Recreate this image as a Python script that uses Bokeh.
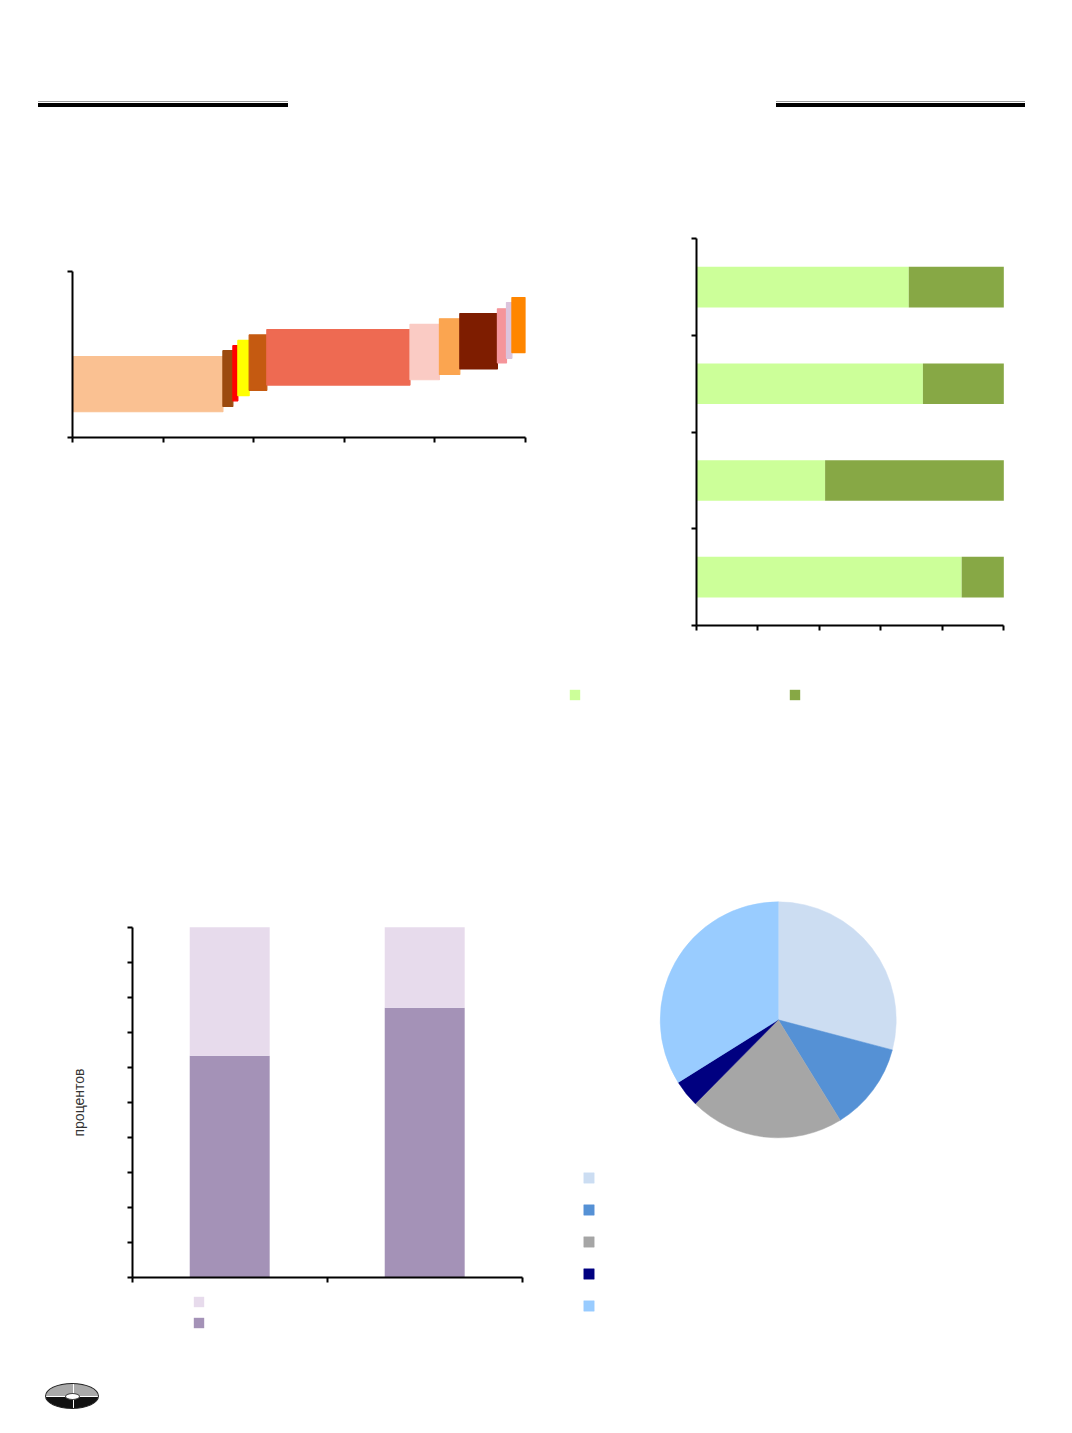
import numpy as np
from bokeh.plotting import figure
from bokeh.models import (ColumnDataSource, FixedTicker, Legend, LegendItem, Div, Range1d)
from bokeh.layouts import column, row
from bokeh.embed import file_html
from bokeh.resources import INLINE
from bokeh.core.properties import value

# ---------------- data ----------------
# Chart 1: variable-width floating bars (width = share, low/high = range)
c1_widths = [33.2, 2.2, 1.1, 2.5, 3.9, 31.6, 6.5, 4.5, 8.3, 2.0, 1.2, 3.0]
c1_lows = [15.5, 18.7, 22.1, 25.2, 28.4, 31.6, 34.8, 38.0, 41.3, 44.9, 47.7, 51.1]
c1_highs = [48.7, 52.3, 55.3, 58.5, 61.8, 65.0, 68.2, 71.5, 74.7, 77.5, 81.3, 84.3]
c1_colors = ["#FAC192", "#9C4A0E", "#FF0000", "#FFFF00", "#C55A11", "#EE6A52",
             "#FACBC4", "#FBA550", "#7E1D00", "#F5959A", "#DCC4DC", "#FF8600"]
c1_xticks = [0, 20, 40, 60, 80, 100]
c1_yticks = [0, 100]

# Chart 2: 100% stacked horizontal bars (bottom to top)
c2_first = [86.3, 41.9, 73.7, 69.1]
c2_second = [13.7, 58.1, 26.3, 30.9]
c2_colors = ["#CCFF99", "#87A845"]
c2_xticks = [0, 20, 40, 60, 80, 100]
c2_yticks = [0, 1, 2, 3, 4]

# Chart 3: 100% stacked vertical bars
c3_lower = [63.3, 77.0]
c3_upper = [36.7, 23.0]
c3_colors = ["#A492B7", "#E7DBEC"]  # lower, upper
c3_yticks = list(range(0, 101, 10))
c3_xticks = [0, 1, 2]
c3_ylabel = "процентов"

# Chart 4: pie shares (clockwise from 12 o'clock)
c4_shares = [29.1, 12.1, 21.2, 3.7, 33.9]
c4_colors = ["#CCDDF2", "#5591D5", "#A6A6A6", "#000080", "#99CCFF"]


def style(p):
    p.outline_line_color = None
    p.background_fill_color = "white"
    p.border_fill_color = "white"
    p.xgrid.visible = False
    p.ygrid.visible = False
    for ax in p.axis:
        ax.axis_line_color = "black"
        ax.axis_line_width = 2
        ax.major_tick_line_color = "black"
        ax.major_tick_line_width = 2
        ax.major_tick_in = 0
        ax.major_tick_out = 5
        ax.minor_tick_line_color = None
        ax.major_label_text_color = None


def no_align(p):
    if "frame_align" in p.properties():
        p.frame_align = False


def blank_legend(items, **kw):
    lg = Legend(items=items, padding=0, margin=0, border_line_color=None,
                background_fill_alpha=0, label_text_color=None,
                label_text_font_size="7px", **kw)
    return lg


# ---------------- chart 1 ----------------
w = np.array(c1_widths)
right = np.cumsum(w)
left = right - w
src1 = ColumnDataSource(dict(left=left, right=right, bottom=c1_lows, top=c1_highs, color=c1_colors))
p1 = figure(width=560, height=540, x_range=Range1d(0, 100), y_range=Range1d(0, 100),
            output_backend="svg", toolbar_location=None,
            min_border_left=72, min_border_right=35, min_border_top=81, min_border_bottom=293)
p1.quad(left="left", right="right", bottom="bottom", top="top", fill_color="color",
        line_color="color", line_width=1.2, source=src1)
p1.xaxis.ticker = FixedTicker(ticks=c1_xticks)
p1.yaxis.ticker = FixedTicker(ticks=c1_yticks)
style(p1)

# ---------------- chart 2 ----------------
# frame = whole figure; axes fixed at the data origin and bounded to the data range
ypos = np.arange(len(c2_first)) + 0.5
f = np.array(c2_first)
end = f + np.array(c2_second)
src2 = ColumnDataSource(dict(y=ypos, first=f, end=end))
p2 = figure(width=504, height=540, x_range=Range1d(-44.12, 119.73), y_range=Range1d(-1.086, 4.4996),
            output_backend="svg", toolbar_location=None,
            min_border_left=0, min_border_right=0, min_border_top=0, min_border_bottom=0)
ra = p2.hbar(y="y", left=0, right="first", height=0.42, fill_color=c2_colors[0],
             line_color=None, source=src2)
rb = p2.hbar(y="y", left="first", right="end", height=0.42, fill_color=c2_colors[1],
             line_color=None, source=src2)
p2.xaxis.ticker = FixedTicker(ticks=c2_xticks)
p2.yaxis.ticker = FixedTicker(ticks=c2_yticks)
p2.xaxis.fixed_location = 0
p2.yaxis.fixed_location = 0
p2.xaxis.bounds = (0, 100)
p2.yaxis.bounds = (0, 4)
style(p2)
lg2 = blank_legend([LegendItem(label=value(""), renderers=[ra]),
                    LegendItem(label=value(""), renderers=[rb])],
                   orientation="horizontal", location=(8, 29),
                   glyph_width=13, glyph_height=13, label_width=192, label_height=13,
                   label_standoff=5, spacing=10)
p2.add_layout(lg2)

# ---------------- chart 3 ----------------
xpos = np.arange(len(c3_lower)) + 0.5
lo = np.array(c3_lower)
src3 = ColumnDataSource(dict(x=xpos, lower=lo, total=lo + np.array(c3_upper)))
p3 = figure(width=560, height=615, x_range=Range1d(-0.6754, 2.1964), y_range=Range1d(-19.514, 156.2),
            output_backend="svg", toolbar_location=None,
            min_border_left=0, min_border_right=0, min_border_top=0, min_border_bottom=0)
r3a = p3.vbar(x="x", bottom=0, top="lower", width=0.41, fill_color=c3_colors[0],
              line_color=None, source=src3)
r3b = p3.vbar(x="x", bottom="lower", top="total", width=0.41, fill_color=c3_colors[1],
              line_color=None, source=src3)
p3.xaxis.ticker = FixedTicker(ticks=c3_xticks)
p3.yaxis.ticker = FixedTicker(ticks=c3_yticks)
p3.xaxis.fixed_location = 0
p3.yaxis.fixed_location = 0
p3.xaxis.bounds = (0, 2)
p3.yaxis.bounds = (0, 100)
style(p3)
p3.yaxis.axis_label = c3_ylabel
p3.yaxis.axis_label_text_font = "Liberation Sans"
p3.yaxis.axis_label_text_font_size = "14px"
p3.yaxis.axis_label_text_font_style = "normal"
p3.yaxis.axis_label_text_color = "#333333"
p3.yaxis.axis_label_standoff = 41
lg3 = blank_legend([LegendItem(label=value(""), renderers=[r3b]),
                    LegendItem(label=value(""), renderers=[r3a])],
                   orientation="vertical", location=(192, 16),
                   glyph_width=13, glyph_height=13, label_width=20, label_height=13,
                   label_standoff=5, spacing=8)
p3.add_layout(lg3)

# ---------------- chart 4 ----------------
sh = np.array(c4_shares) / np.sum(c4_shares)
cum_end = np.cumsum(sh)
cum_start = cum_end - sh
src4 = ColumnDataSource(dict(start=np.pi / 2 - 2 * np.pi * cum_start,
                             end=np.pi / 2 - 2 * np.pi * cum_end, color=c4_colors))
p4 = figure(width=504, height=615, x_range=Range1d(-1.845, 2.426), y_range=Range1d(-2.760, 2.452),
            output_backend="svg", toolbar_location=None, x_axis_location=None, y_axis_location=None,
            min_border_left=0, min_border_right=0, min_border_top=0, min_border_bottom=0)
r4 = p4.wedge(x=0, y=0, radius=1, start_angle="start", end_angle="end", direction="clock",
              fill_color="color", line_color="color", line_width=0.5, source=src4)
p4.outline_line_color = None
p4.xgrid.visible = False
p4.ygrid.visible = False
lg4 = blank_legend([LegendItem(label=value(""), renderers=[r4], index=i) for i in range(len(c4_shares))],
                   orientation="vertical", location=(22, 33),
                   glyph_width=13, glyph_height=13, label_width=20, label_height=13,
                   label_standoff=5, spacing=19)
p4.add_layout(lg4)

# ---------------- decorations ----------------
header = Div(width=1064, height=190, margin=0, text="""
<div style="position:relative;width:1064px;height:190px;">
 <div style="position:absolute;left:38px;top:101px;width:250px;height:1px;background:#9a9a9a"></div>
 <div style="position:absolute;left:38px;top:103px;width:250px;height:3.5px;background:#000"></div>
 <div style="position:absolute;left:776px;top:101px;width:249px;height:1px;background:#9a9a9a"></div>
 <div style="position:absolute;left:776px;top:103px;width:249px;height:3.5px;background:#000"></div>
</div>""")

footer = Div(width=1064, height=75, margin=0, text="""
<div style="position:relative;width:1064px;height:75px;">
 <div style="position:absolute;left:45px;top:38px;width:54px;height:26px;border:1px solid #222;border-radius:50%;
      background:linear-gradient(#a9a9a9 0%, #a9a9a9 50%, #fff 50%, #fff 55%, #111 55%, #111 100%);overflow:hidden">
   <div style="position:absolute;left:26.5px;top:0px;width:1px;height:26px;background:#fff"></div>
   <div style="position:absolute;left:19px;top:9px;width:15px;height:7px;border-radius:50%;background:#fff;border:1px solid #444"></div>
 </div>
</div>""")

for fig in (p1, p2, p3, p4):
    fig.margin = 0
    no_align(fig)

layout = column(header, row(p1, p2, spacing=0), row(p3, p4, spacing=0), footer, spacing=0)
open("out.html", "w").write(file_html(layout, INLINE))
